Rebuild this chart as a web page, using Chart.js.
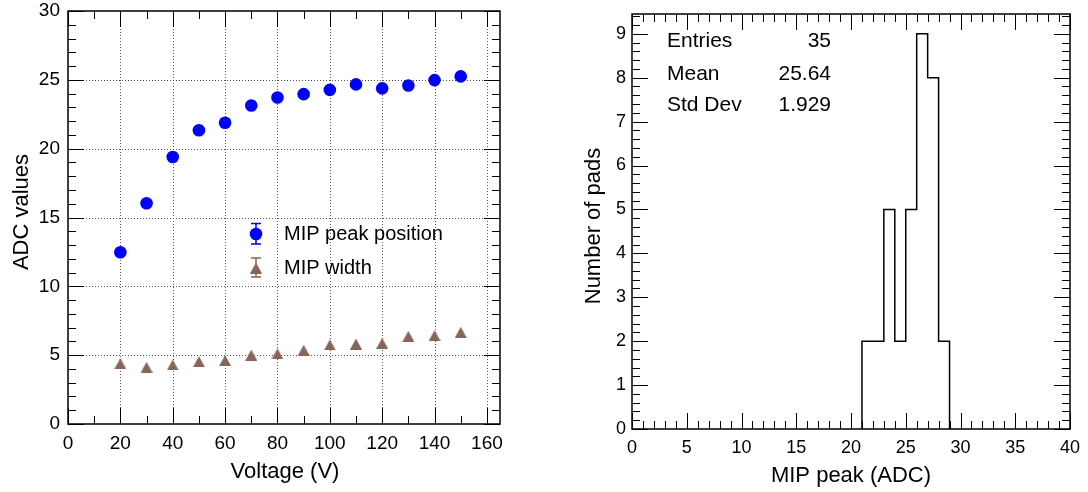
<!DOCTYPE html>
<html><head><meta charset="utf-8">
<script src="https://cdn.jsdelivr.net/npm/chart.js@4.4.1/dist/chart.umd.min.js"></script>
<style>
html,body{margin:0;padding:0;background:#fff;width:1088px;height:492px;overflow:hidden}
canvas{position:absolute;top:0}
#c1{left:0}
#c2{left:544px}
</style></head><body>
<canvas id="c1" width="544" height="492"></canvas>
<canvas id="c2" width="544" height="492"></canvas>
<script>
// ---------- data ----------
const voltages      = [20, 30, 40, 50, 60, 70, 80, 90, 100, 110, 120, 130, 140, 150];
const peakPositions = [12.48, 16.03, 19.40, 21.34, 21.88, 23.14, 23.72, 23.96, 24.27, 24.67, 24.38, 24.59, 24.98, 25.25];
const mipWidths     = [4.39, 4.12, 4.29, 4.53, 4.61, 5.01, 5.09, 5.36, 5.74, 5.81, 5.86, 6.37, 6.42, 6.66];
const legendLabels  = ['MIP peak position', 'MIP width'];
const xTicksLeft    = [0, 20, 40, 60, 80, 100, 120, 140, 160];
const yTicksLeft    = [0, 5, 10, 15, 20, 25, 30];

const histBinEdges  = [21, 22, 23, 24, 25, 26, 27, 28, 29];
const histCounts    = [2, 2, 5, 2, 5, 9, 8, 2];
const xTicksRight   = [0, 5, 10, 15, 20, 25, 30, 35, 40];
const yTicksRight   = [0, 1, 2, 3, 4, 5, 6, 7, 8, 9];
const statsLabels   = ['Entries', 'Mean', 'Std Dev'];
const statsValues   = ['35', '25.64', '1.929'];

// ---------- styles ----------
const FONT = "'Liberation Sans', Arial, Helvetica, sans-serif";
const BLUE = '#0000ff';
const BROWN = 'rgb(135,102,87)';

function triangleImage(color) {
  const c = document.createElement('canvas');
  c.width = 12; c.height = 11;
  const g = c.getContext('2d');
  g.fillStyle = color;
  g.beginPath(); g.moveTo(6, 0); g.lineTo(12, 11); g.lineTo(0, 11); g.closePath(); g.fill();
  return c;
}
const triImg = triangleImage(BROWN);

function histPoints(edges, counts) {
  const pts = [{x: edges[0], y: 0}];
  counts.forEach((c, i) => pts.push({x: edges[i], y: c}));
  pts.push({x: edges[edges.length - 1], y: 0});
  return pts;
}

// ---------- ROOT-like frame plugin ----------
const rootFrame = {
  id: 'rootFrame',
  beforeDatasetsDraw(chart, args, o) {
    if (!o.grid) return;
    const ctx = chart.ctx, a = chart.chartArea, xs = chart.scales.x, ys = chart.scales.y;
    ctx.save();
    ctx.setLineDash([1, 2]);
    ctx.strokeStyle = '#555';
    ctx.lineWidth = 1;
    o.xMajorVals.forEach(v => {
      const px = Math.round(xs.getPixelForValue(v)) + 0.5;
      if (px <= a.left + 1 || px >= a.right - 1) return;
      ctx.beginPath(); ctx.moveTo(px, a.top); ctx.lineTo(px, a.bottom); ctx.stroke();
    });
    o.yMajorVals.forEach(v => {
      const py = Math.round(ys.getPixelForValue(v)) + 0.5;
      if (py <= a.top + 1 || py >= a.bottom - 1) return;
      ctx.beginPath(); ctx.moveTo(a.left, py); ctx.lineTo(a.right, py); ctx.stroke();
    });
    ctx.restore();
  },
  afterDatasetsDraw(chart, args, o) {
    const ctx = chart.ctx, a = chart.chartArea, xs = chart.scales.x, ys = chart.scales.y;
    ctx.save();
    ctx.strokeStyle = '#000';
    ctx.lineWidth = 1;
    const LMAJ = 16, LMIN = 8;
    const isMaj = (v, step) => Math.abs(v / step - Math.round(v / step)) < 1e-6;
    for (let v = xs.min; v <= xs.max + 1e-9; v += o.xMinor) {
      const L = isMaj(v, o.xMajor) ? LMAJ : LMIN;
      const px = Math.round(xs.getPixelForValue(v)) + 0.5;
      ctx.beginPath();
      ctx.moveTo(px, a.bottom); ctx.lineTo(px, a.bottom - L);
      ctx.moveTo(px, a.top); ctx.lineTo(px, a.top + L);
      ctx.stroke();
    }
    for (let v = ys.min; v <= ys.max + 1e-9; v += o.yMinor) {
      const L = isMaj(v, o.yMajor) ? LMAJ : LMIN;
      const py = Math.round(ys.getPixelForValue(v)) + 0.5;
      ctx.beginPath();
      ctx.moveTo(a.left, py); ctx.lineTo(a.left + L, py);
      ctx.moveTo(a.right, py); ctx.lineTo(a.right - L, py);
      ctx.stroke();
    }
    ctx.lineWidth = 1.5;
    ctx.strokeRect(a.left, a.top, a.right - a.left, a.bottom - a.top);
    ctx.restore();
  },
  afterDraw(chart, args, o) {
    const ctx = chart.ctx;
    ctx.save();
    ctx.fillStyle = '#000';
    ctx.font = '22px ' + FONT;
    ctx.textAlign = 'center';
    ctx.textBaseline = 'alphabetic';
    ctx.fillText(o.xTitle, o.xTitlePos[0], o.xTitlePos[1]);
    ctx.save();
    ctx.translate(o.yTitlePos[0], o.yTitlePos[1]);
    ctx.rotate(-Math.PI / 2);
    ctx.textBaseline = 'middle';
    ctx.fillText(o.yTitle, 0, 0);
    ctx.restore();
    if (o.drawLegend) drawLegend(ctx);
    if (o.drawStats) drawStats(ctx);
    ctx.restore();
  }
};

function errMarker(ctx, x, y, color, up, down) {
  ctx.strokeStyle = color; ctx.lineWidth = 1.5;
  ctx.beginPath();
  ctx.moveTo(x, y - up); ctx.lineTo(x, y + down);
  ctx.moveTo(x - 5, y - up); ctx.lineTo(x + 5, y - up);
  ctx.moveTo(x - 5, y + down); ctx.lineTo(x + 5, y + down);
  ctx.stroke();
}
function drawLegend(ctx) {
  errMarker(ctx, 256, 234, BLUE, 10.5, 10);
  ctx.fillStyle = BLUE;
  ctx.beginPath(); ctx.arc(256, 234, 6.3, 0, Math.PI * 2); ctx.fill();
  errMarker(ctx, 256, 268, BROWN, 10, 9);
  ctx.drawImage(triImg, 250, 262.5);
  ctx.fillStyle = '#000';
  ctx.font = '20px ' + FONT;
  ctx.textAlign = 'left';
  ctx.textBaseline = 'alphabetic';
  ctx.fillText(legendLabels[0], 284, 239.5);
  ctx.fillText(legendLabels[1], 284, 273.5);
}
function drawStats(ctx) {
  ctx.fillStyle = '#000';
  ctx.font = '21px ' + FONT;
  ctx.textBaseline = 'alphabetic';
  const base = [47, 79.8, 111];
  statsLabels.forEach((t, i) => {
    ctx.textAlign = 'left'; ctx.fillText(t, 123, base[i]);
    ctx.textAlign = 'right'; ctx.fillText(statsValues[i], 287, base[i]);
  });
}

function axis(min, max, tickVals, size, pad, fitProp, fitVal) {
  return {
    type: 'linear', min: min, max: max,
    afterBuildTicks: s => { s.ticks = tickVals.map(v => ({value: v})); },
    afterFit: s => { s[fitProp] = fitVal; s.paddingTop = 0; s.paddingBottom = 0; s.paddingLeft = 0; s.paddingRight = 0; },
    grid: {display: false, drawTicks: false},
    border: {display: false},
    ticks: {color: '#000', font: {family: FONT, size: size}, padding: pad, autoSkip: false, maxRotation: 0, includeBounds: false}
  };
}

Chart.defaults.animation = false;

new Chart(document.getElementById('c1'), {
  type: 'scatter',
  data: {
    datasets: [
      {label: legendLabels[0], data: voltages.map((v, i) => ({x: v, y: peakPositions[i]})),
       pointStyle: 'circle', pointRadius: 6.3, pointHoverRadius: 6.3, backgroundColor: BLUE, borderColor: BLUE, borderWidth: 0},
      {label: legendLabels[1], data: voltages.map((v, i) => ({x: v, y: mipWidths[i]})),
       pointStyle: triImg, pointRadius: 6, backgroundColor: BROWN, borderColor: BROWN, borderWidth: 0}
    ]
  },
  options: {
    responsive: false, devicePixelRatio: 1,
    layout: {autoPadding: false, padding: {top: 11, right: 44, left: 0, bottom: 0}},
    scales: {
      x: axis(0, 165, xTicksLeft, 19, 8, 'height', 68),
      y: axis(0, 30, yTicksLeft, 19, 8, 'width', 68)
    },
    plugins: {
      legend: {display: false}, tooltip: {enabled: false},
      rootFrame: {grid: true, xMajor: 20, xMinor: 10, yMajor: 5, yMinor: 1,
        xMajorVals: xTicksLeft, yMajorVals: yTicksLeft,
        xTitle: 'Voltage (V)', xTitlePos: [285, 478], yTitle: 'ADC values', yTitlePos: [22, 212],
        drawLegend: true}
    }
  },
  plugins: [rootFrame]
});

new Chart(document.getElementById('c2'), {
  type: 'scatter',
  data: {
    datasets: [{
      label: 'MIP peak', data: histPoints(histBinEdges, histCounts),
      showLine: true, stepped: 'before', pointRadius: 0, borderColor: '#000', borderWidth: 1.5, fill: false
    }]
  },
  options: {
    responsive: false, devicePixelRatio: 1,
    layout: {autoPadding: false, padding: {top: 14, right: 18, left: 0, bottom: 0}},
    scales: {
      x: axis(0, 40, xTicksRight, 18, 8, 'height', 63),
      y: axis(0, 9.45, yTicksRight, 18, 6, 'width', 88)
    },
    plugins: {
      legend: {display: false}, tooltip: {enabled: false},
      rootFrame: {grid: false, xMajor: 5, xMinor: 1, yMajor: 1, yMinor: 0.2,
        xMajorVals: xTicksRight, yMajorVals: yTicksRight,
        xTitle: 'MIP peak (ADC)', xTitlePos: [307, 482], yTitle: 'Number of pads', yTitlePos: [50, 226],
        drawStats: true}
    }
  },
  plugins: [rootFrame]
});
</script>
</body></html>
